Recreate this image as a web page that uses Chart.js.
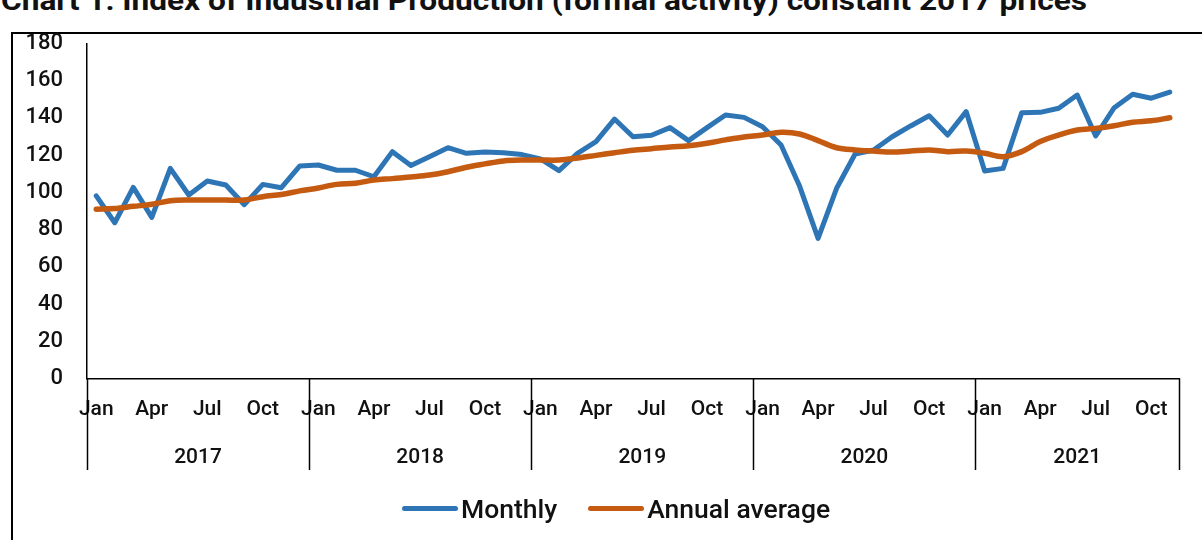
<!DOCTYPE html>
<html>
<head>
<meta charset="utf-8">
<script src="https://cdn.jsdelivr.net/npm/chart.js@4.4.1/dist/chart.umd.min.js"></script>
<style>
  html, body { margin: 0; padding: 0; background: #fff; overflow: hidden; }
  body { width: 1202px; height: 540px; position: relative; font-family: Roboto, "Noto Sans", sans-serif; }
  #title { position: absolute; left: 1px; top: -13px; font-size: 28px; line-height: 28px; font-weight: 700; white-space: nowrap; color: #111; transform-origin: 0 0; }
  #frame { position: absolute; left: 11px; top: 32px; width: 1300px; height: 600px; border: 2px solid #000; box-sizing: border-box; }
  #chart { position: absolute; left: 0; top: 0; }
  #legend { position: absolute; left: 402px; top: 493px; display: flex; align-items: center; font-size: 26.5px; font-weight: 500; color: #111; }
  .item { display: flex; align-items: center; margin-right: 31px; }
  .swatch { display: inline-block; width: 56px; height: 5px; border-radius: 3px; margin-right: 3px; }
</style>
</head>
<body>
<div id="title">Chart 1: Index of Industrial Production (formal activity) constant 2017 prices</div>
<div id="frame"></div>
<canvas id="chart" width="1202" height="540"></canvas>
<div id="legend"></div>
<script>
// Categorias: meses de Jan 2017 a Nov 2021
const years = ['2017', '2018', '2019', '2020', '2021'];
const monthNames = ['Jan', 'Feb', 'Mar', 'Apr', 'May', 'Jun', 'Jul', 'Aug', 'Sep', 'Oct', 'Nov', 'Dec'];
const monthsPerYear = [12, 12, 12, 12, 11];

const monthly = [
  98.1, 83.7, 102.7, 86.6, 112.9, 98.6, 106.1, 104.0, 93.4, 104.3, 102.5, 114.2,
  114.7, 111.9, 111.9, 108.4, 121.9, 114.4, 119.2, 124.0, 121.0, 121.7, 121.3, 120.3,
  118.0, 111.7, 121.0, 127.3, 139.4, 129.9, 130.7, 134.8, 127.8, 134.8, 141.6, 140.3,
  135.3, 125.5, 103.4, 75.3, 102.2, 120.6, 122.8, 129.9, 135.7, 141.2, 130.8, 143.4,
  111.5, 112.9, 142.8, 143.0, 145.2, 152.3, 130.3, 145.5, 152.7, 150.6, 153.9
];
const annualAverage = [
  91.0, 91.3, 92.5, 93.6, 95.5, 95.9, 95.9, 95.9, 95.9, 97.7, 98.9, 100.8,
  102.4, 104.3, 104.9, 106.7, 107.4, 108.3, 109.3, 111.1, 113.5, 115.3, 116.9, 117.4,
  117.4, 117.4, 118.5, 119.9, 121.3, 122.6, 123.5, 124.4, 125.1, 126.4, 128.2, 129.8,
  130.8, 132.3, 131.4, 127.8, 124.0, 122.8, 122.2, 121.7, 122.2, 122.8, 121.9, 122.2,
  121.0, 119.2, 121.9, 127.3, 130.8, 133.5, 134.4, 135.8, 137.7, 138.5, 140.1
];

const labels = [];
monthsPerYear.forEach(n => {
  for (let m = 0; m < n; m++) labels.push(monthNames[m]);
});

const blue = '#2E75B6';
const orange = '#C55A11';

// Título ajustado à largura do original
const title = document.getElementById('title');
title.style.transform = 'scaleX(' + (1086 / title.getBoundingClientRect().width) + ')';

// Legenda em HTML
const legend = document.getElementById('legend');
[['Monthly', blue], ['Annual average', orange]].forEach(([text, color]) => {
  const item = document.createElement('div');
  item.className = 'item';
  item.innerHTML = `<span class="swatch" style="background:${color}"></span><span>${text}</span>`;
  legend.appendChild(item);
});

// Plugin para os rótulos de ano e separadores
const yearGroups = {
  id: 'yearGroups',
  afterDraw(chart) {
    const ctx = chart.ctx;
    const x = chart.scales.x;
    const bottom = chart.chartArea.bottom;
    const step = x.getPixelForValue(1) - x.getPixelForValue(0);
    let start = 0;
    const edges = [];
    monthsPerYear.forEach(n => { edges.push(start); start += n; });
    edges.push(start);
    ctx.save();
    ctx.strokeStyle = '#000';
    ctx.lineWidth = 1.5;
    const px = edges.map(i => x.getPixelForValue(i) - step / 2);
    px.forEach(p => {
      ctx.beginPath();
      ctx.moveTo(Math.round(p) + 0.5, bottom);
      ctx.lineTo(Math.round(p) + 0.5, 470);
      ctx.stroke();
    });
    ctx.fillStyle = '#111';
    ctx.font = '500 21px Roboto';
    ctx.textAlign = 'center';
    ctx.textBaseline = 'middle';
    years.forEach((y, i) => ctx.fillText(y, (px[i] + px[i + 1]) / 2, 458));
    ctx.restore();
  }
};

new Chart(document.getElementById('chart'), {
  type: 'line',
  data: {
    labels: labels,
    datasets: [{
      label: 'Monthly',
      data: monthly,
      borderColor: blue,
      borderWidth: 5,
      borderJoinStyle: 'round',
      borderCapStyle: 'round',
      pointRadius: 0,
      tension: 0,
      order: 2
    }, {
      label: 'Annual average',
      data: annualAverage,
      borderColor: orange,
      borderWidth: 5.5,
      borderJoinStyle: 'round',
      borderCapStyle: 'round',
      pointRadius: 0,
      tension: 0.35,
      order: 1
    }]
  },
  options: {
    responsive: false,
    animation: false,
    layout: { padding: { left: 0, top: 43.5, right: 23, bottom: 0 } },
    plugins: { legend: { display: false }, tooltip: { enabled: false } },
    scales: {
      x: {
        offset: true,
        grid: { display: false, drawTicks: false },
        border: { display: true, color: '#000', width: 1.5 },
        ticks: {
          autoSkip: false,
          maxRotation: 0,
          padding: 19,
          color: '#111',
          font: { family: 'Roboto', size: 21, weight: '500' },
          callback: function (v, i) { return i % 3 === 0 ? labels[i] : ''; }
        },
        afterFit: function (scale) { scale.height = 161.5; }
      },
      y: {
        min: 0,
        max: 180,
        grid: { display: false, drawTicks: false },
        border: { display: true, color: '#000', width: 1.5 },
        ticks: { stepSize: 20, padding: 24, color: '#111', font: { family: 'Roboto', size: 22, weight: '500' } },
        afterFit: function (scale) { scale.width = 87; }
      }
    }
  },
  plugins: [yearGroups]
});
</script>
</body>
</html>
